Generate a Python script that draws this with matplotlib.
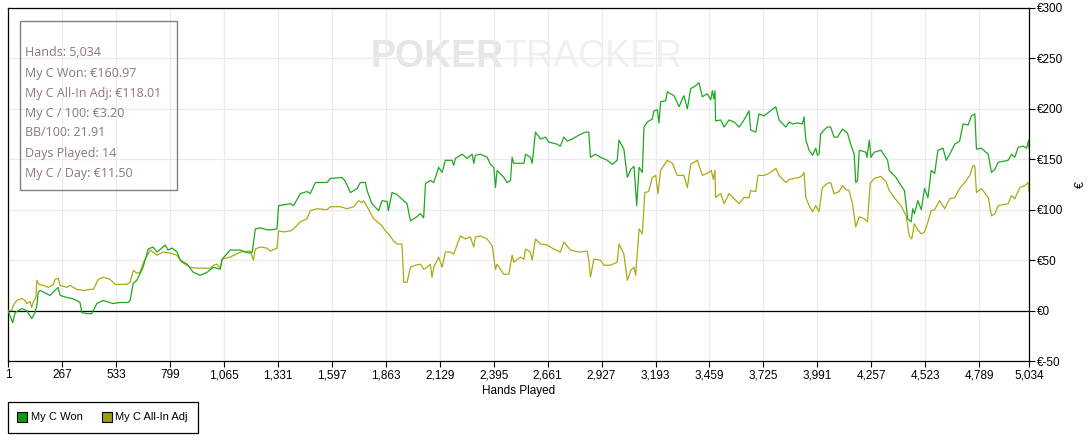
import numpy as np
import matplotlib
matplotlib.use('Agg')
import matplotlib.pyplot as plt
from matplotlib.lines import Line2D
from matplotlib.patches import Rectangle

# cumulative winnings (hand number, euros)
won_hands = [1, 24, 36, 69, 93, 118, 134, 143, 150, 159, 208, 223, 248, 258, 291, 315, 340, 356, 365,
             389, 414, 439, 470, 519, 554, 593, 603, 618, 636, 667, 692, 716, 736, 776, 790, 809, 835,
             850, 884, 914, 948, 983, 1013, 1047, 1057, 1096, 1146, 1185, 1205, 1220, 1244, 1279, 1294,
             1327, 1335, 1392, 1409, 1442, 1475, 1491, 1516, 1574, 1590, 1648, 1664, 1689, 1722, 1738,
             1763, 1771, 1795, 1828, 1845, 1870, 1876, 1894, 1919, 1935, 1968, 1985, 2009, 2034, 2050,
             2059, 2083, 2100, 2124, 2141, 2157, 2190, 2198, 2207, 2240, 2264, 2289, 2297, 2305, 2330,
             2363, 2379, 2396, 2404, 2412, 2445, 2462, 2478, 2486, 2494, 2544, 2552, 2576, 2585, 2601,
             2626, 2650, 2667, 2708, 2724, 2741, 2758, 2782, 2815, 2848, 2864, 2872, 2897, 2922, 2955,
             2980, 3004, 3013, 3037, 3054, 3071, 3087, 3100, 3112, 3128, 3136, 3153, 3177, 3185, 3202,
             3210, 3218, 3243, 3251, 3284, 3309, 3325, 3333, 3350, 3366, 3391, 3407, 3424, 3448, 3465,
             3473, 3480, 3486, 3489, 3514, 3531, 3555, 3580, 3605, 3629, 3654, 3662, 3687, 3703, 3728,
             3753, 3786, 3802, 3835, 3852, 3868, 3892, 3917, 3925, 3934, 3950, 3967, 3983, 3991, 3999,
             4007, 4024, 4040, 4056, 4073, 4090, 4114, 4139, 4155, 4172, 4180, 4189, 4197, 4230, 4235,
             4247, 4255, 4271, 4304, 4337, 4345, 4378, 4403, 4420, 4436, 4453, 4461, 4469, 4486, 4503,
             4519, 4536, 4552, 4569, 4585, 4610, 4626, 4643, 4668, 4692, 4709, 4734, 4750, 4767, 4775,
             4800, 4816, 4833, 4849, 4866, 4882, 4931, 4948, 4964, 4981, 5005, 5022, 5032, 5034]
won_vals = [0, -12, -2, 2, 0, -8, -2, 5, 18, 20, 15, 18, 23, 15, 13, 12, 10, 8, -2,
            -3, -3, 7, 10, 7, 8, 8, 10, 27, 30, 43, 61, 63, 58, 65, 60, 62, 58,
            50, 46, 38, 35, 38, 43, 41, 51, 60, 60, 57, 58, 81, 82, 80, 80,
            81, 104, 106, 104, 116, 118, 116, 127, 127, 131, 132, 128, 117, 121, 127,
            127, 119, 106, 99, 109, 108, 99, 117, 115, 112, 106, 89, 92, 96, 92,
            126, 129, 127, 142, 137, 149, 149, 144, 151, 155, 151, 155, 146, 154, 155,
            152, 145, 142, 122, 139, 132, 127, 129, 152, 146, 146, 155, 152, 146, 177,
            170, 172, 167, 165, 163, 172, 168, 170, 174, 177, 177, 152, 155, 152, 149,
            145, 149, 169, 160, 132, 140, 143, 104, 142, 137, 182, 187, 190, 198, 199,
            186, 207, 208, 217, 213, 202, 210, 213, 200, 220, 223, 226, 212, 215, 209,
            218, 210, 218, 188, 189, 182, 189, 187, 182, 189, 198, 179, 177, 195, 193,
            197, 202, 189, 182, 187, 185, 186, 185, 192, 169, 159, 154, 161, 154, 155,
            175, 179, 182, 182, 172, 172, 180, 176, 165, 155, 127, 129, 159, 157, 152,
            169, 152, 157, 159, 149, 139, 132, 124, 119, 91, 88, 101, 96, 109, 100,
            121, 112, 139, 136, 159, 161, 149, 155, 165, 168, 185, 184, 193, 195, 160,
            161, 158, 155, 137, 140, 147, 149, 155, 152, 162, 163, 161, 169, 161]

adj_hands = [1, 19, 27, 44, 69, 85, 93, 110, 118, 126, 139, 143, 154, 175, 200, 225, 233, 249, 258,
             291, 307, 340, 373, 406, 422, 446, 471, 504, 529, 554, 587, 603, 619, 636, 652, 669, 702,
             735, 767, 800, 833, 858, 899, 932, 965, 998, 1014, 1031, 1047, 1056, 1096, 1146, 1195,
             1211, 1220, 1244, 1277, 1294, 1327, 1335, 1360, 1392, 1409, 1442, 1475, 1491, 1524, 1574,
             1590, 1639, 1672, 1705, 1730, 1746, 1754, 1771, 1804, 1845, 1861, 1877, 1902, 1919, 1943,
             1952, 1968, 1985, 2009, 2034, 2050, 2067, 2083, 2091, 2100, 2124, 2141, 2157, 2182, 2198,
             2231, 2256, 2280, 2297, 2305, 2330, 2363, 2388, 2404, 2412, 2445, 2470, 2486, 2494, 2527,
             2544, 2552, 2576, 2585, 2601, 2626, 2659, 2692, 2724, 2741, 2774, 2815, 2856, 2864, 2872,
             2889, 2922, 2938, 2971, 3004, 3013, 3037, 3054, 3071, 3087, 3095, 3112, 3128, 3140, 3159,
             3177, 3194, 3205, 3218, 3251, 3276, 3300, 3333, 3350, 3366, 3399, 3424, 3457, 3468, 3478,
             3486, 3489, 3514, 3531, 3555, 3580, 3605, 3629, 3654, 3662, 3687, 3698, 3728, 3753, 3786,
             3802, 3835, 3852, 3901, 3917, 3925, 3934, 3950, 3967, 3983, 3999, 4015, 4040, 4056, 4073,
             4098, 4114, 4130, 4147, 4164, 4180, 4197, 4222, 4238, 4251, 4271, 4304, 4329, 4345, 4370,
             4403, 4428, 4444, 4456, 4469, 4486, 4503, 4519, 4536, 4552, 4569, 4593, 4618, 4643, 4668,
             4692, 4717, 4742, 4758, 4767, 4775, 4800, 4833, 4849, 4866, 4882, 4931, 4948, 4964, 4989,
             5014, 5030, 5034]
adj_vals = [0, 0, 5, 10, 12, 10, 7, 9, 3, 9, 13, 30, 26, 25, 23, 26, 31, 32, 25,
            23, 25, 21, 20, 21, 21, 31, 33, 31, 26, 26, 26, 28, 40, 37, 38, 48, 60,
            55, 58, 57, 55, 48, 43, 42, 42, 42, 45, 46, 42, 51, 53, 58, 59,
            50, 61, 63, 62, 59, 62, 79, 78, 79, 81, 88, 91, 99, 101, 100,
            103, 103, 101, 103, 109, 107, 109, 103, 91, 84, 79, 76, 69, 66, 66,
            28, 28, 43, 45, 46, 41, 43, 46, 33, 43, 53, 43, 58, 58, 56,
            74, 71, 73, 63, 73, 74, 71, 64, 41, 46, 36, 36, 55, 48, 53,
            51, 61, 58, 50, 71, 66, 65, 61, 58, 68, 60, 58, 59, 50, 33,
            51, 50, 45, 45, 48, 66, 56, 30, 40, 43, 35, 81, 76, 117, 118,
            132, 134, 116, 139, 149, 146, 134, 134, 122, 145, 149, 134, 137, 139, 130,
            139, 112, 116, 106, 116, 111, 106, 112, 112, 119, 118, 134, 134, 136, 141,
            134, 127, 130, 132, 134, 137, 112, 104, 98, 104, 98, 122, 126, 127, 116,
            118, 124, 120, 119, 106, 83, 93, 91, 88, 126, 131, 133, 128, 119, 112,
            104, 94, 74, 71, 86, 80, 76, 78, 88, 99, 100, 109, 101, 111, 112,
            121, 127, 134, 144, 143, 117, 121, 112, 94, 96, 104, 106, 114, 111, 122,
            124, 127, 118]

x_ticks = [1, 267, 533, 799, 1065, 1331, 1597, 1863, 2129, 2395, 2661, 2927, 3193, 3459,
           3725, 3991, 4257, 4523, 4789, 5034]
y_ticks = [-50, 0, 50, 100, 150, 200, 250, 300]

stats = ['Hands: 5,034', 'My C Won: \u20ac160.97', 'My C All-In Adj: \u20ac118.01',
         'My C / 100: \u20ac3.20', 'BB/100: 21.91', 'Days Played: 14', 'My C / Day: \u20ac11.50']

won_color = '#1fa81f'
adj_color = '#aaaa14'

plt.rcParams['font.family'] = ['Liberation Sans', 'DejaVu Sans']

fig = plt.figure(figsize=(10.9, 4.41), dpi=100)
ax = fig.add_axes([8/1090, 1 - 361/441, 1021/1090, 353/441])

ax.set_xlim(1, 5034)
ax.set_ylim(-50, 300)
ax.set_xticks(x_ticks)
ax.set_xticklabels(['{:,}'.format(t) for t in x_ticks])
ax.set_yticks(y_ticks)
ax.set_yticklabels(['\u20ac' + str(v) for v in y_ticks])
ax.yaxis.tick_right()
ax.yaxis.set_label_position('right')
ax.tick_params(direction='out', length=4, width=0.8, labelsize=8.5, colors='black', pad=2)
ax.grid(True, color='#ebebeb', linewidth=0.9)
ax.set_axisbelow(True)
for s in ax.spines.values():
    s.set_linewidth(0.9)
    s.set_color('black')

ax.axhline(0, color='black', linewidth=0.9, zorder=1)

# watermark
ax.text(0.485, 0.861, 'POKER', transform=ax.transAxes, ha='right', va='center',
        fontsize=27, fontweight='bold', color='#e6e6e6', zorder=0)
ax.text(0.485, 0.861, 'TRACKER', transform=ax.transAxes, ha='left', va='center',
        fontsize=27, color='#f0f0f0', zorder=0)

ax.plot(adj_hands, adj_vals, color=adj_color, linewidth=0.9, zorder=3)
ax.plot(won_hands, won_vals, color=won_color, linewidth=0.9, zorder=4)

ax.set_xlabel('Hands Played', fontsize=8.5, labelpad=3)
ax.set_ylabel('\u20ac', fontsize=9, labelpad=8)

# stats box
fig.add_artist(Rectangle((20/1090, 1 - 190/441), 157/1090, 169/441, transform=fig.transFigure,
                         fill=False, edgecolor='#808080', linewidth=1))
for i, s in enumerate(stats):
    fig.text(25/1090, 1 - (53 + 20*i)/441, s, fontsize=9, color='#8a7585',
             family=['Open Sans', 'DejaVu Sans'], va='center', ha='left')

handles = [Line2D([], [], marker='s', linestyle='none', markersize=7.5, markerfacecolor='#0a9a0a',
                  markeredgecolor='black', markeredgewidth=0.8, label='My C Won'),
           Line2D([], [], marker='s', linestyle='none', markersize=7.5, markerfacecolor='#9c9c10',
                  markeredgecolor='black', markeredgewidth=0.8, label='My C All-In Adj')]
leg = fig.legend(handles=handles, loc='lower left', bbox_to_anchor=(8/1090, 8/441), ncol=2,
                 fontsize=8, fancybox=False, edgecolor='black', framealpha=1, borderaxespad=0,
                 handlelength=0.7, handletextpad=0.4, columnspacing=1.8, borderpad=0.95)
leg.get_frame().set_linewidth(0.9)

plt.savefig('out.png', dpi=100)
